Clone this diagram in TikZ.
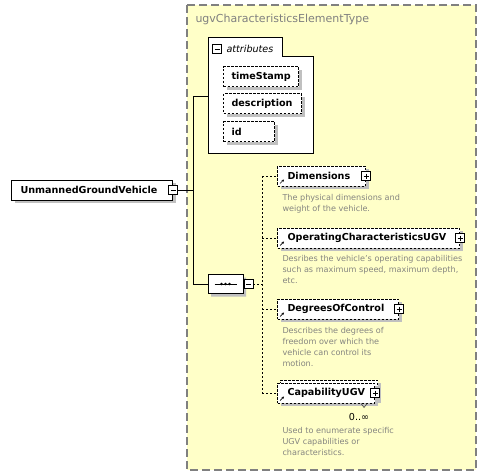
\documentclass[tikz,border=0pt]{standalone}
\usepackage{fontspec}
\setmainfont{DejaVu Sans}
\usetikzlibrary{shapes.misc,shadows,arrows.meta}
\definecolor{ctfill}{HTML}{FFFFC8}
\definecolor{ctline}{HTML}{808080}
\definecolor{shade}{HTML}{C0C0C0}
\definecolor{dstext}{HTML}{858580}
\newcommand{\nmfont}{\fontsize{9.6}{11}\selectfont\bfseries}
\newcommand{\dsfont}{\fontsize{8.1}{11}\selectfont}

\begin{document}
\begin{tikzpicture}[x=1pt,y=-1pt,line width=1pt,
  shd/.style={drop shadow={shadow xshift=3pt,shadow yshift=-3pt,fill=shade,opacity=1}},
  box/.style={draw,fill=white,shd,minimum height=20pt,inner xsep=9pt,inner ysep=0pt,align=left,anchor=west,font=\nmfont},
  elem/.style={box,inner xsep=10pt,dash pattern=on 2.5pt off 1.5pt,
    path picture={\draw[solid,line width=0.7pt,-{Stealth[length=2.5pt,width=2.5pt]}] ([shift={(2.5pt,2.5pt)}]path picture bounding box.south west) -- ++(4pt,4pt);}},
  attrib/.style={box,inner xsep=8pt,dash pattern=on 2.5pt off 1.5pt},
  tog/.style={draw,solid,fill=white,minimum size=9pt,inner sep=0pt,line width=0.7pt},
  minus/.style={tog,path picture={\draw ([xshift=2pt]path picture bounding box.west) -- ([xshift=-2pt]path picture bounding box.east);}},
  plus/.style={tog,path picture={\draw ([xshift=2pt]path picture bounding box.west) -- ([xshift=-2pt]path picture bounding box.east);
    \draw ([yshift=-2pt]path picture bounding box.north) -- ([yshift=2pt]path picture bounding box.south);}},
  desc/.style={anchor=north west,inner sep=0pt,align=left,text=dstext,font=\dsfont},
  dashline/.style={dash pattern=on 2pt off 2pt}]
  \useasboundingbox (0,0) rectangle (487,476);
  \draw[ctline,fill=ctfill,line width=1.2pt,dash pattern=on 8pt off 4pt] (187,5) rectangle (476,470);
  \node[anchor=west,inner sep=0pt,text=ctline,font=\fontsize{11}{13}\selectfont] (title) at (195,19) {ugvCharacteristicsElementType};

  \draw[fill=white] (208,38) -- (282,38) -- (282,57) -- (313,57) -- (313,153) -- (208,153) -- cycle;
  \node[minus] (attrT) at (217,49) {};
  \node[anchor=west,inner sep=2pt,font=\fontsize{9.6}{11}\selectfont\itshape] (attrL) at (224,49) {attributes};
  \coordinate (attr) at (208,97);
  \node[attrib,text width=59pt] (ts) at (223,77) {timeStamp};
  \node[attrib,text width=62pt] (dsc) at (223,104) {description};
  \node[attrib,text width=35pt] (id) at (223,132) {id};

  \node[box,text width=143pt] (ugv) at (11,190) {UnmannedGroundVehicle};
  \node[minus] (ugvT) at (ugv.east) {};

  \node[draw,fill=white,shd,chamfered rectangle,chamfered rectangle xsep=5pt,chamfered rectangle ysep=5pt,
    minimum width=35pt,minimum height=19pt,inner sep=0pt] (seq) at (225.5,284) {};
  \draw ([xshift=-11pt]seq.center) -- ([xshift=11pt]seq.center);
  \foreach \d in {-4,0,4} \fill ([xshift=\d pt]seq.center) circle (1.4pt);
  \node[minus,anchor=west] (seqT) at (seq.east) {};

  \node[elem,text width=68pt] (dim) at (277,176) {Dimensions};
  \node[plus] (dimT) at (dim.east) {};
  \node[desc] (dimD) at (282,194) {The physical dimensions and\\weight of the vehicle.};
  \node[elem,text width=162pt] (opc) at (277,238) {OperatingCharacteristicsUGV};
  \node[plus] (opcT) at (opc.east) {};
  \node[desc] (opcD) at (282,255) {Desribes the vehicle's operating capabilities\\such as maximum speed, maximum depth,\\etc.};
  \node[elem,text width=101pt] (doc) at (277,309) {DegreesOfControl};
  \node[plus] (docT) at (doc.east) {};
  \node[desc] (docD) at (282,327) {Describes the degrees of\\freedom over which the\\vehicle can control its\\motion.};
  \node[elem,text width=77pt] (capB) at (280,390) {};
  \node[elem,text width=77pt] (cap) at (277,393) {CapabilityUGV};
  \node[plus] (capT) at (cap.east) {};
  \draw[darkgray,line width=0.6pt] ([xshift=-14pt]cap.south east) -- ++(3pt,-4pt) -- ++(3pt,4pt);
  \node[inner sep=0pt,font=\fontsize{9.6}{11}\selectfont] (capM) at (359,417) {0..∞};
  \node[desc] (capD) at (282,427) {Used to enumerate specific\\UGV capabilities or\\characteristics.};

  \coordinate (jn) at (193,190);
  \coordinate (br) at (262,284);
  \draw (ugvT.east) -- (jn);
  \draw (attr -| jn) -- (seq.west -| jn);
  \draw (attr -| jn) -- (attr);
  \draw (seq.west -| jn) -- (seq.west);
  \draw[dashline] (seqT.east) -- (br);
  \draw[dashline] (dim.west -| br) -- (cap.west -| br);
  \foreach \e in {dim,opc,doc,cap} \draw[dashline] (\e.west -| br) -- (\e.west);
\end{tikzpicture}
\end{document}
